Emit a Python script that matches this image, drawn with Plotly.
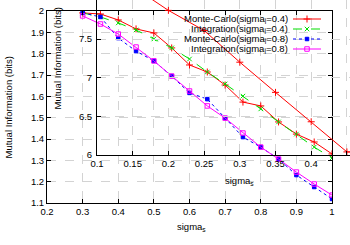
import plotly.graph_objects as go

W, H = 350, 245

# ---------------- data ----------------
sigma_s = [0.3, 0.35, 0.4, 0.45, 0.5, 0.55, 0.6, 0.65, 0.7, 0.75, 0.8, 0.85, 0.9, 0.95, 1.0]
mc_04 = [1.991, 1.986, 1.958, 1.916, 1.897, 1.827, 1.747, 1.714, 1.653, 1.573, 1.555, 1.480, 1.423, 1.386, 1.330]
int_04 = [1.991, 1.972, 1.944, 1.911, 1.869, 1.827, 1.775, 1.714, 1.658, 1.601, 1.541, 1.480, 1.423, 1.362, 1.311]
mc_08 = [1.991, 1.972, 1.873, 1.812, 1.766, 1.695, 1.616, 1.587, 1.498, 1.409, 1.362, 1.306, 1.231, 1.175, 1.119]
int_08 = [1.977, 1.939, 1.892, 1.831, 1.766, 1.695, 1.625, 1.555, 1.498, 1.428, 1.362, 1.306, 1.245, 1.189, 1.137]

inset_sigma_s = [0.15, 0.2, 0.25, 0.3, 0.35, 0.4, 0.45, 0.5]
inset_mc_04 = [8.18, 7.87, 7.61, 7.20, 6.81, 6.43, 6.04, 6.03]

series_names = ["Monte-Carlo(sigma<sub>j</sub>=0.4)", "Integration(sigma<sub>j</sub>=0.4)",
                "Monte-Carlo(sigma<sub>j</sub>=0.8)", "Integration(sigma<sub>j</sub>=0.8)"]

main_x_ticks = [0.2, 0.3, 0.4, 0.5, 0.6, 0.7, 0.8, 0.9, 1.0]
main_x_labels = ["0.2", "0.3", "0.4", "0.5", "0.6", "0.7", "0.8", "0.9", "1"]
main_y_ticks = [1.1, 1.2, 1.3, 1.4, 1.5, 1.6, 1.7, 1.8, 1.9, 2.0]
main_y_labels = ["1.1", "1.2", "1.3", "1.4", "1.5", "1.6", "1.7", "1.8", "1.9", "2"]
inset_x_ticks = [0.1, 0.15, 0.2, 0.25, 0.3, 0.35, 0.4, 0.45]
inset_x_labels = ["0.1", "0.15", "0.2", "0.25", "0.3", "0.35", "0.4", "0.45"]
inset_y_ticks = [6, 6.5, 7, 7.5, 8]
inset_y_labels = ["6", "6.5", "7", "7.5", "8"]

# ---------------- styles ----------------
FONT = "Liberation Sans, Arial, sans-serif"
FS = 9.5
styles = [
    dict(color="#ff0000", dash="solid", symbol="cross-thin", size=5),
    dict(color="#00dd00", dash="dash", symbol="x-thin", size=4.5),
    dict(color="#0000ff", dash="dot", symbol="square", size=3.5),
    dict(color="#ff00ff", dash="solid", symbol="square-open", size=4.5),
]
series_vals = [mc_04, int_04, mc_08, int_08]


def px_x(p):
    return p / W


def px_y(p):
    return 1 - p / H


fig = go.Figure()

for name, vals, st in zip(series_names, series_vals, styles):
    fig.add_trace(go.Scatter(
        x=sigma_s, y=vals, mode="lines+markers", name=name, showlegend=False,
        line=dict(color=st["color"], width=1, dash=st["dash"]),
        marker=dict(symbol=st["symbol"], size=st["size"], color=st["color"],
                    line=dict(color=st["color"], width=1)),
        xaxis="x", yaxis="y"))

st = styles[0]
fig.add_trace(go.Scatter(
    x=inset_sigma_s, y=inset_mc_04, mode="lines+markers", showlegend=False,
    line=dict(color=st["color"], width=1),
    marker=dict(symbol=st["symbol"], size=st["size"], color=st["color"],
                line=dict(color=st["color"], width=1)),
    xaxis="x2", yaxis="y2"))

# gnuplot-like key: text right-aligned, then the line sample
for i, (name, st) in enumerate(zip(series_names, styles)):
    fig.add_trace(go.Scatter(
        x=[0, 1], y=[i, i], mode="lines", showlegend=False, hoverinfo="skip",
        line=dict(color=st["color"], width=1, dash=st["dash"]),
        xaxis="x3", yaxis="y3"))
    fig.add_trace(go.Scatter(
        x=[0.5], y=[i], mode="markers", showlegend=False, hoverinfo="skip",
        marker=dict(symbol=st["symbol"], size=st["size"], color=st["color"],
                    line=dict(color=st["color"], width=1)),
        xaxis="x3", yaxis="y3"))
    fig.add_annotation(
        text=name, xref="paper", yref="paper", x=px_x(289), y=px_y(19 + 10 * i),
        xanchor="right", yanchor="middle", showarrow=False, borderpad=0,
        height=10, valign="middle",
        font=dict(family=FONT, size=FS, color="black"))

grid = dict(showgrid=True, gridcolor="#d3d3d3", gridwidth=1, griddash="dash",
            zeroline=False, ticks="inside", ticklen=4, tickwidth=1, tickcolor="black",
            showline=True, linecolor="black", linewidth=1, automargin=False,
            tickfont=dict(family=FONT, size=FS, color="black"))

fig.update_layout(
    template="none",
    width=W, height=H, autosize=False,
    margin=dict(l=0, r=0, t=0, b=0, pad=0),
    paper_bgcolor="white", plot_bgcolor="rgba(0,0,0,0)",
    xaxis=dict(domain=[px_x(47), px_x(332)], range=[0.2, 1.0], tickvals=main_x_ticks,
               ticktext=main_x_labels, mirror="ticks", anchor="y", **grid),
    yaxis=dict(domain=[px_y(203), px_y(11)], range=[1.1, 2.0], tickvals=main_y_ticks,
               ticktext=main_y_labels, mirror="ticks", anchor="x", **grid),
    xaxis2=dict(domain=[px_x(97), 1.0], range=[0.1, 0.1 + 253 / 714.0], tickvals=inset_x_ticks,
                ticktext=inset_x_labels, anchor="y2", **grid),
    yaxis2=dict(domain=[px_y(155), 1.0], range=[6, 6 + 155 / 77.33], tickvals=inset_y_ticks,
                ticktext=inset_y_labels, anchor="x2", ticklabelstandoff=2, **grid),
    xaxis3=dict(domain=[px_x(293), px_x(321)], range=[0, 1], visible=False,
                anchor="y3", automargin=False),
    yaxis3=dict(domain=[px_y(54), px_y(14)], range=[3.5, -0.5], visible=False,
                anchor="x3", automargin=False),
)

# axis titles
fig.add_annotation(text="Mutual Information (bits)", xref="paper", yref="paper",
                   x=px_x(8.5), y=px_y(108), textangle=-90, showarrow=False,
                   xanchor="center", yanchor="middle", borderpad=0,
                   font=dict(family=FONT, size=FS, color="black"))
fig.add_annotation(text="Mutual Information (bits)", xref="paper", yref="paper",
                   x=px_x(57), y=px_y(58.5), textangle=-90, showarrow=False,
                   xanchor="center", yanchor="middle", borderpad=0,
                   font=dict(family=FONT, size=FS, color="black"))
fig.add_annotation(text="sigma<sub>s</sub>", xref="paper", yref="paper",
                   x=px_x(191), y=px_y(226.5), showarrow=False,
                   xanchor="center", yanchor="middle", borderpad=0,
                   font=dict(family=FONT, size=FS, color="black"))
fig.add_annotation(text="sigma<sub>s</sub>", xref="paper", yref="paper",
                   x=px_x(239), y=px_y(180.5), showarrow=False,
                   xanchor="center", yanchor="middle", borderpad=0,
                   font=dict(family=FONT, size=FS, color="black"))

fig.write_html(
    "out.html",
    config={"displayModeBar": False, "staticPlot": True},
    post_script="document.body.style.margin='0';document.body.style.padding='0';"
                "document.body.style.overflow='hidden';",
)
